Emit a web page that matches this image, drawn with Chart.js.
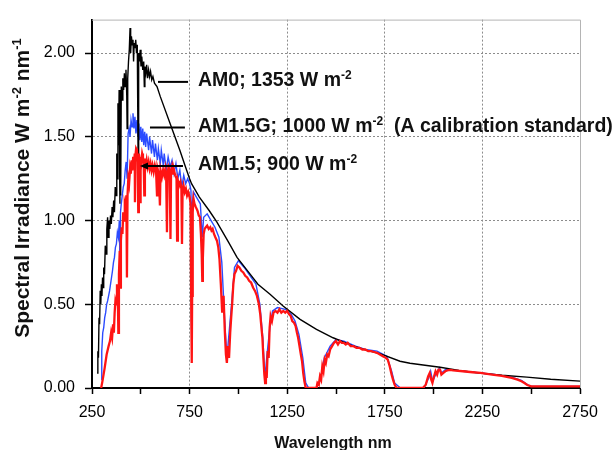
<!DOCTYPE html>
<html><head><meta charset="utf-8">
<script src="https://cdn.jsdelivr.net/npm/chart.js@4"></script>
<style>html,body{margin:0;padding:0;background:#fff;}canvas{display:block;}</style>
</head><body>
<canvas id="c" width="614" height="450"></canvas>
<script>
// ---- data (wavelength nm, irradiance W m-2 nm-1) ----
const am0 = [[276,0.09],[280,0.22],[283,0.18],[286,0.42],[289,0.38],[292,0.58],[295,0.50],[298,0.62],[301,0.55],[304,0.66],[307,0.60],[310,0.72],[314,0.68],[318,0.85],[322,0.80],[326,0.95],[330,1.02],[333,0.90],[337,1.00],[341,0.95],[345,1.03],[349,0.98],[353,1.08],[357,1.02],[361,1.12],[365,1.05],[369,1.20],[373,1.15],[377,1.40],[380,1.25],[383,1.70],[386,1.45],[389,1.78],[393,1.10],[396,1.75],[397,1.15],[400,1.80],[404,1.72],[408,1.85],[412,1.78],[416,1.88],[420,1.80],[424,1.90],[428,1.75],[430,1.55],[433,1.85],[437,1.95],[441,2.02],[445,2.15],[448,2.00],[452,2.10],[456,2.05],[460,2.08],[463,1.95],[466,2.06],[470,2.03],[474,2.08],[478,2.00],[482,2.05],[486,1.40],[489,2.00],[493,1.95],[497,2.02],[501,1.92],[505,1.98],[510,1.90],[515,1.95],[518,1.80],[521,1.92],[526,1.88],[530,1.93],[535,1.85],[540,1.90],[545,1.86],[550,1.89],[556,1.84],[562,1.86],[570,1.82],[583,1.80],[600,1.74],[650,1.58],[700,1.42],[726,1.33],[750,1.25],[760,1.22],[780,1.18],[800,1.14],[850,1.06],[890,0.99],[950,0.87],[993,0.78],[1060,0.68],[1100,0.62],[1162,0.56],[1229,0.49],[1316,0.41],[1400,0.35],[1485,0.30],[1580,0.255],[1659,0.225],[1725,0.205],[1828,0.16],[1879,0.148],[2033,0.124],[2130,0.105],[2238,0.089],[2350,0.076],[2478,0.065],[2600,0.052],[2750,0.041]];

const am15g = [[297,0.05],[300,0.22],[305,0.33],[310,0.36],[315,0.42],[320,0.45],[325,0.50],[330,0.52],[335,0.55],[340,0.58],[345,0.62],[350,0.66],[355,0.70],[360,0.75],[365,0.78],[370,0.84],[375,0.86],[380,0.93],[385,0.90],[390,1.00],[393,0.75],[396,1.05],[400,1.10],[405,1.15],[410,1.20],[415,1.22],[420,1.30],[425,1.35],[430,1.25],[435,1.52],[440,1.55],[445,1.50],[450,1.60],[455,1.56],[460,1.64],[465,1.55],[470,1.62],[475,1.52],[480,1.60],[485,1.50],[490,1.58],[495,1.48],[500,1.56],[505,1.47],[510,1.55],[515,1.45],[520,1.53],[525,1.44],[530,1.52],[540,1.42],[545,1.50],[555,1.40],[560,1.48],[570,1.38],[575,1.46],[585,1.36],[590,1.43],[600,1.34],[605,1.42],[615,1.33],[620,1.40],[630,1.30],[640,1.38],[650,1.32],[660,1.36],[670,1.28],[680,1.34],[690,1.25],[700,1.30],[710,1.20],[720,1.27],[730,1.22],[740,1.25],[750,1.22],[757,1.18],[760,0.35],[764,1.10],[770,1.17],[790,1.13],[805,1.10],[815,0.90],[822,1.02],[840,1.04],[860,1.00],[880,0.96],[900,0.90],[915,0.75],[930,0.40],[941,0.18],[950,0.30],[965,0.50],[980,0.72],[1000,0.76],[1030,0.72],[1060,0.67],[1090,0.62],[1110,0.50],[1125,0.30],[1136,0.06],[1145,0.18],[1160,0.35],[1175,0.46],[1200,0.48],[1240,0.47],[1270,0.44],[1290,0.40],[1310,0.32],[1330,0.18],[1345,0.03],[1360,0.00],[1400,0.00],[1420,0.05],[1440,0.18],[1470,0.25],[1500,0.29],[1540,0.28],[1600,0.25],[1650,0.23],[1710,0.22],[1760,0.19],[1785,0.10],[1800,0.03],[1830,0.00],[1950,0.00],[1975,0.06],[1985,0.10],[1995,0.04],[2010,0.08],[2030,0.12],[2040,0.09],[2060,0.11],[2080,0.11],[2150,0.10],[2240,0.09],[2320,0.08],[2400,0.065],[2450,0.045],[2480,0.02],[2500,0.01],[2750,0.01]];

const am15 = [[297,0.00],[305,0.05],[315,0.12],[325,0.20],[335,0.25],[342,0.28],[348,0.33],[353,0.30],[358,0.38],[362,0.33],[366,0.45],[370,0.52],[374,0.50],[378,0.62],[382,0.58],[385,0.33],[388,0.68],[392,0.82],[395,0.60],[398,0.88],[402,0.96],[406,0.92],[410,1.05],[414,1.00],[418,1.10],[422,1.08],[426,1.15],[429,0.66],[432,1.15],[436,1.25],[440,1.22],[445,1.31],[449,1.28],[453,1.36],[457,1.30],[461,1.38],[465,1.33],[469,1.40],[470,1.11],[472,1.38],[476,1.43],[480,1.42],[484,1.35],[487,1.05],[490,1.40],[494,1.36],[496,1.11],[499,1.38],[503,1.35],[507,1.40],[511,1.38],[515,1.34],[518,1.15],[521,1.37],[526,1.33],[530,1.36],[535,1.32],[540,1.35],[545,1.31],[550,1.34],[555,1.30],[560,1.33],[566,1.29],[572,1.33],[578,1.30],[583,1.15],[586,1.31],[592,1.28],[598,1.09],[601,1.30],[608,1.26],[614,1.30],[620,1.27],[626,1.31],[630,1.26],[634,0.93],[637,1.28],[642,1.32],[648,1.30],[652,0.89],[655,1.29],[660,1.32],[665,1.28],[670,1.30],[676,1.27],[683,1.25],[686,0.88],[690,1.24],[697,1.21],[703,1.23],[708,1.19],[711,0.86],[714,1.18],[719,1.21],[725,1.17],[731,1.19],[737,1.15],[743,1.17],[750,1.14],[755,1.10],[759,0.40],[761,0.15],[763,0.55],[766,1.05],[770,1.13],[775,1.10],[782,1.08],[790,1.06],[797,1.03],[803,1.02],[808,0.92],[812,0.80],[815,0.64],[818,0.78],[822,0.92],[827,0.95],[833,0.96],[840,0.97],[848,0.95],[856,0.96],[862,0.94],[868,0.95],[875,0.92],[882,0.90],[890,0.88],[897,0.84],[903,0.77],[910,0.62],[917,0.45],[924,0.55],[930,0.35],[936,0.20],[941,0.15],[946,0.25],[952,0.18],[958,0.33],[963,0.42],[968,0.50],[974,0.62],[980,0.68],[988,0.70],[996,0.73],[1005,0.72],[1015,0.70],[1025,0.69],[1035,0.67],[1045,0.66],[1055,0.64],[1065,0.63],[1075,0.60],[1085,0.58],[1095,0.55],[1105,0.50],[1112,0.44],[1118,0.36],[1123,0.30],[1128,0.18],[1133,0.08],[1137,0.03],[1141,0.10],[1145,0.06],[1150,0.22],[1155,0.18],[1160,0.36],[1165,0.43],[1172,0.40],[1180,0.45],[1190,0.46],[1200,0.45],[1210,0.47],[1220,0.45],[1230,0.46],[1240,0.45],[1250,0.46],[1260,0.44],[1268,0.43],[1276,0.40],[1285,0.39],[1293,0.37],[1300,0.33],[1306,0.30],[1313,0.25],[1320,0.20],[1326,0.16],[1332,0.09],[1338,0.04],[1345,0.00],[1400,0.00],[1405,0.03],[1412,0.02],[1418,0.07],[1424,0.05],[1430,0.13],[1436,0.10],[1442,0.17],[1448,0.15],[1455,0.20],[1462,0.19],[1470,0.23],[1480,0.25],[1490,0.27],[1500,0.28],[1510,0.26],[1520,0.28],[1530,0.27],[1540,0.27],[1550,0.26],[1560,0.27],[1575,0.25],[1590,0.25],[1605,0.24],[1620,0.24],[1635,0.23],[1650,0.23],[1665,0.22],[1680,0.22],[1695,0.215],[1710,0.21],[1725,0.20],[1740,0.19],[1755,0.18],[1765,0.17],[1775,0.13],[1785,0.08],[1792,0.05],[1800,0.02],[1810,0.00],[1945,0.00],[1960,0.02],[1972,0.07],[1980,0.09],[1988,0.05],[1994,0.03],[2000,0.06],[2010,0.10],[2018,0.08],[2025,0.11],[2033,0.11],[2040,0.08],[2050,0.09],[2060,0.10],[2070,0.105],[2085,0.108],[2100,0.105],[2150,0.10],[2200,0.094],[2240,0.09],[2300,0.08],[2350,0.072],[2400,0.06],[2430,0.05],[2450,0.04],[2465,0.03],[2480,0.018],[2500,0.01],[2750,0.01]];

const xTickLabels = [250, 750, 1250, 1750, 2250, 2750];
const yTickLabels = ['0.00', '0.50', '1.00', '1.50', '2.00'];
const seriesLabels = [
  [['AM0; 1353 W m', 0], ['-2', 1]],
  [['AM1.5G; 1000 W m', 0], ['-2', 1], ['  (A calibration standard)', 0]],
  [['AM1.5; 900 W m', 0], ['-2', 1]]
];
const yTitle = [['Spectral Irradiance W m', 0], ['-2', 1], [' nm', 0], ['-1', 1]];
const xTitle = 'Wavelength nm';

// ---- drawing ----
const FONT = '"Liberation Sans", Arial, Helvetica, sans-serif';
Chart.defaults.font.family = FONT;
const toPts = arr => arr.map(p => ({x: p[0], y: p[1]}));
const majorGridX = xTickLabels.slice(1, -1);

function partsWidth(ctx, parts, size, supSize) {
  let w = 0;
  for (const [t, s] of parts) { ctx.font = 'bold ' + (s ? supSize : size) + 'px ' + FONT; w += ctx.measureText(t).width; }
  return w;
}
function drawParts(ctx, parts, x, y, size, supSize, rise) {
  let cx = x;
  for (const [t, s] of parts) {
    ctx.font = 'bold ' + (s ? supSize : size) + 'px ' + FONT;
    ctx.fillText(t, cx, s ? y - rise : y);
    cx += ctx.measureText(t).width;
  }
}

const framePlugin = {
  id: 'frame',
  beforeDatasetsDraw(chart) {
    const {ctx, chartArea: a} = chart;
    ctx.save();
    ctx.strokeStyle = '#b4b4b4'; ctx.lineWidth = 1;
    ctx.beginPath();
    ctx.moveTo(a.left, a.top + 0.5); ctx.lineTo(a.right + 0.5, a.top + 0.5); ctx.lineTo(a.right + 0.5, a.bottom);
    ctx.stroke();
    ctx.restore();
  }
};

const textPlugin = {
  id: 'texts',
  afterDraw(chart) {
    const {ctx} = chart;
    const xs = chart.scales.x, ys = chart.scales.y;
    ctx.save();
    ctx.fillStyle = '#111'; ctx.strokeStyle = '#000'; ctx.textBaseline = 'alphabetic'; ctx.textAlign = 'left';
    // annotation leader lines (data coordinates)
    const leaders = [[588, 742, 1.828, false], [547, 726, 1.556, false], [496, 716, 1.325, true]];
    const textYs = [1.805, 1.527, 1.302];
    const textX = xs.getPixelForValue(793);
    leaders.forEach((l, i) => {
      const x1 = xs.getPixelForValue(l[0]), x2 = xs.getPixelForValue(l[1]), y = ys.getPixelForValue(l[2]);
      ctx.lineWidth = 2;
      ctx.beginPath(); ctx.moveTo(x1 + (l[3] ? 5 : 0), y); ctx.lineTo(x2, y); ctx.stroke();
      if (l[3]) { ctx.beginPath(); ctx.moveTo(x1, y); ctx.lineTo(x1 + 8, y - 3.5); ctx.lineTo(x1 + 8, y + 3.5); ctx.closePath(); ctx.fillStyle = '#000'; ctx.fill(); ctx.fillStyle = '#111'; }
      drawParts(ctx, seriesLabels[i], textX, ys.getPixelForValue(textYs[i]), 19.5, 12, 7);
    });
    // y title
    ctx.save();
    const wy = partsWidth(ctx, yTitle, 21, 13);
    ctx.translate(21, 188);
    ctx.rotate(-Math.PI / 2);
    drawParts(ctx, yTitle, -wy / 2, 7.5, 21, 13, 8);
    ctx.restore();
    // x title
    ctx.font = 'bold 16px ' + FONT;
    ctx.textAlign = 'center';
    ctx.fillText(xTitle, (chart.chartArea.left + chart.chartArea.right) / 2 - 3, 448);
    ctx.restore();
  }
};

new Chart(document.getElementById('c'), {
  type: 'line',
  data: {
    datasets: [
      {label: 'AM1.5', data: toPts(am15), borderColor: '#ff1414', borderWidth: 2.3, pointRadius: 0, tension: 0},
      {label: 'AM0', data: toPts(am0), borderColor: '#000000', borderWidth: 1.4, pointRadius: 0, tension: 0},
      {label: 'AM1.5G', data: toPts(am15g), borderColor: '#2b4bff', borderWidth: 1.4, pointRadius: 0, tension: 0}
    ]
  },
  options: {
    responsive: false,
    animation: false,
    events: [],
    layout: {padding: {top: 15, right: 34, left: 0, bottom: 0}},
    plugins: {legend: {display: false}, tooltip: {enabled: false}},
    scales: {
      x: {
        type: 'linear', min: 250, max: 2750,
        afterFit: s => { s.height = 62; },
        ticks: {
          stepSize: 250, autoSkip: false, maxRotation: 0, color: '#000', padding: 9,
          font: {size: 16},
          callback: v => xTickLabels.includes(v) ? String(v) : ''
        },
        grid: {
          color: c => (c.tick && majorGridX.includes(c.tick.value)) ? '#8c8c8c' : 'rgba(0,0,0,0)',
          lineWidth: 1, tickColor: '#000', tickLength: 6, tickWidth: 1.5
        },
        border: {display: true, color: '#000', width: 2, dash: [2, 2]}
      },
      y: {
        min: 0, max: 2.2,
        afterFit: s => { s.width = 92; },
        ticks: {
          stepSize: 0.5, includeBounds: false, color: '#000', padding: 10,
          font: {size: 16},
          callback: v => yTickLabels[Math.round(v / 0.5)] ?? ''
        },
        grid: {
          color: c => (c.tick && c.tick.value > 0) ? '#8c8c8c' : 'rgba(0,0,0,0)',
          lineWidth: 1, tickColor: '#000', tickLength: 7, tickWidth: 1.5
        },
        border: {display: true, color: '#000', width: 2, dash: [2, 2]}
      }
    }
  },
  plugins: [framePlugin, textPlugin]
});
</script>
</body></html>
